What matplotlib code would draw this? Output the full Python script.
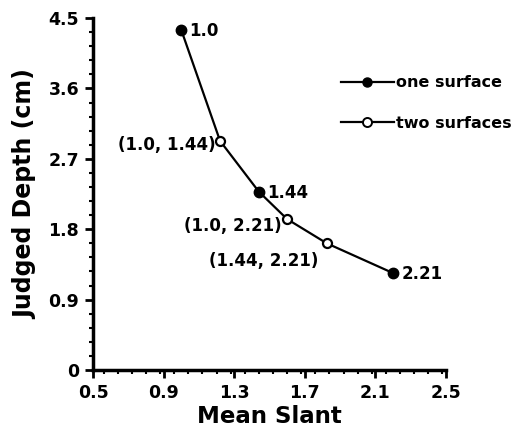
import numpy as np
import matplotlib.pyplot as plt
from matplotlib.ticker import MultipleLocator

plt.rcParams['font.family'] = ['DejaVu Sans']
plt.rcParams['font.weight'] = 'bold'

# one surface
one_x = [1.0, 1.44, 2.2]
one_y = [4.35, 2.28, 1.24]
one_labels = ['1.0', '1.44', '2.21']

# two surfaces
two_x = [1.22, 1.6, 1.825]
two_y = [2.93, 1.93, 1.62]
two_labels = ['(1.0, 1.44)', '(1.0, 2.21)', '(1.44, 2.21)']

fig = plt.figure(figsize=(5.27, 4.30), dpi=100)
ax = fig.add_axes([0.1765, 0.1395, 0.6695, 0.8185])

# connecting line through all points in order of slant
all_x = np.array(one_x + two_x)
all_y = np.array(one_y + two_y)
order = np.argsort(all_x)
ax.plot(all_x[order], all_y[order], color='black', lw=1.6, zorder=2)

ax.plot(one_x, one_y, 'o', color='black', ms=7.5, zorder=3)
ax.plot(two_x, two_y, 'o', mfc='white', mec='black', mew=1.6, ms=6.5, zorder=3)

for x, y, t in zip(one_x, one_y, one_labels):
    ax.annotate(t, (x, y), xytext=(6, -1), textcoords='offset points',
                ha='left', va='center', fontsize=12, fontweight='bold')

offsets = [(-3, -3), (-4, -5), (-6, -13)]
for (x, y, t), off in zip(zip(two_x, two_y, two_labels), offsets):
    ax.annotate(t, (x, y), xytext=off, textcoords='offset points',
                ha='right', va='center', fontsize=12, fontweight='bold')

# legend
l1, = ax.plot([], [], '-o', color='black', ms=6.5, lw=1.6)
l2, = ax.plot([], [], '-o', color='black', mfc='white', mew=1.4, ms=6.5, lw=1.6)
ax.legend([l1, l2], ['one surface', 'two surfaces'], loc='upper left',
          bbox_to_anchor=(0.68, 0.86), frameon=False, handlelength=3.3,
          handletextpad=0.15, labelspacing=1.6, borderpad=0,
          prop={'size': 11.5, 'weight': 'bold'})

ax.set_xlim(0.5, 2.5)
ax.set_ylim(0, 4.5)
ax.set_xticks([0.5, 0.9, 1.3, 1.7, 2.1, 2.5])
ax.set_yticks([0, 0.9, 1.8, 2.7, 3.6, 4.5])
ax.set_yticklabels(['0', '0.9', '1.8', '2.7', '3.6', '4.5'])
ax.xaxis.set_minor_locator(MultipleLocator(0.08))
ax.yaxis.set_minor_locator(MultipleLocator(0.18))

for s in ['top', 'right']:
    ax.spines[s].set_visible(False)
for s in ['left', 'bottom']:
    ax.spines[s].set_linewidth(2.5)

ax.tick_params(which='major', direction='out', length=6, width=2, labelsize=12.5, pad=4)
ax.tick_params(which='minor', direction='out', length=3, width=1.5)
for lab in ax.get_xticklabels() + ax.get_yticklabels():
    lab.set_fontweight('bold')

ax.set_xlabel('Mean Slant', fontsize=16.5, fontweight='bold', labelpad=2)
ax.set_ylabel('Judged Depth (cm)', fontsize=17, fontweight='bold', labelpad=8)

fig.savefig('out.png', dpi=100)
